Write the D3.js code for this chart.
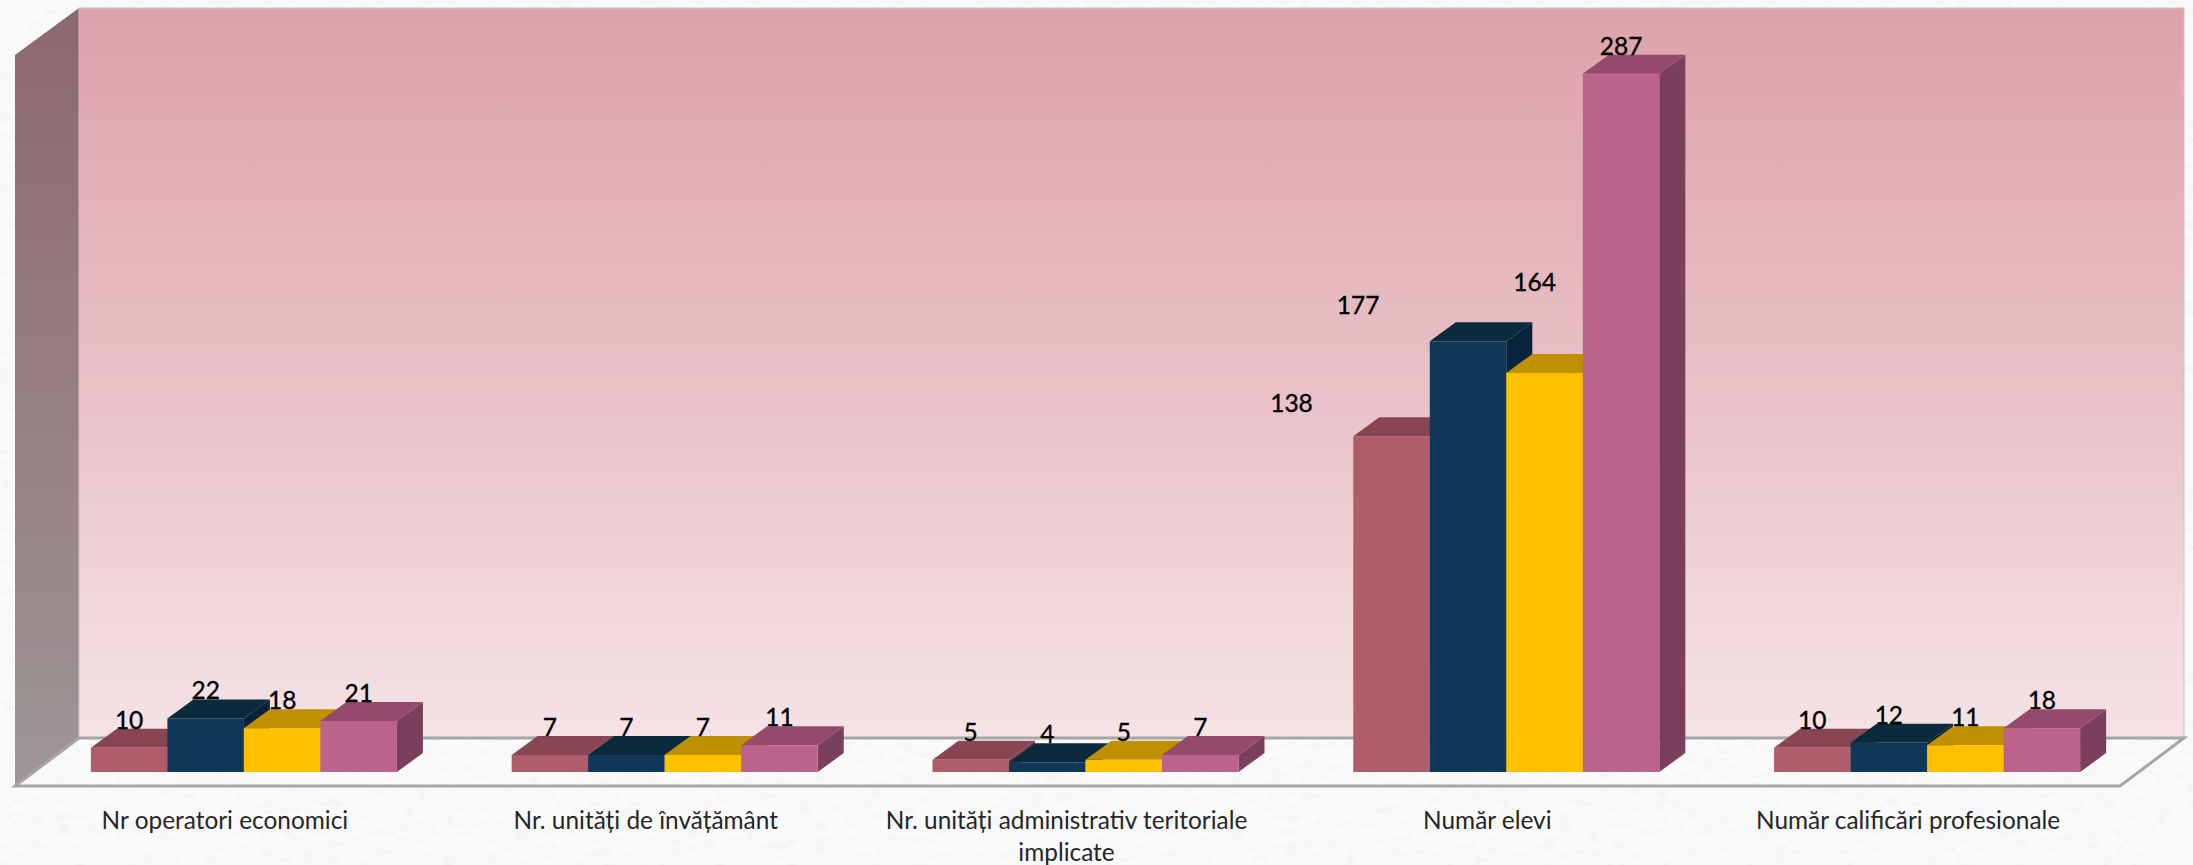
<!DOCTYPE html>
<html>
  <head>
    <meta charset="utf-8">
    <title>Indicatori</title>
    <script src="https://d3js.org/d3.v7.min.js"></script>
    <style>
      html, body { margin: 0; padding: 0; background: #f6f6f6; }
      svg { display: block; }
      text { font-family: Lato, "Open Sans", sans-serif; }
      .value { font-size: 24.5px; fill: #000; stroke: #000; stroke-width: 0.35px; text-anchor: middle; }
      .tick text { font-size: 24.4px; fill: #262626; }
    </style>
  </head>
  <body>
    <svg id="chart" width="2193" height="865"></svg>
    <script>
      // values
      var categories = [
        "Nr operatori economici",
        "Nr. unități de învățământ",
        "Nr. unități administrativ teritoriale implicate",
        "Număr elevi",
        "Număr calificări profesionale"
      ];
      var serie1 = [10, 7, 5, 138, 10];
      var serie2 = [22, 7, 4, 177, 12];
      var serie3 = [18, 7, 5, 164, 11];
      var serie4 = [21, 11, 7, 287, 18];
      var seriesValues = [serie1, serie2, serie3, serie4];

      // colours per series: front, top, side
      var colors = [
        ["#b05c6b", "#884654", "#6f3a46"],
        ["#0f3757", "#0a2a3e", "#08233a"],
        ["#ffc000", "#bf9000", "#9c7600"],
        ["#bc638c", "#934a6b", "#7a3f5a"]
      ];

      // the big category has its labels dragged away from the bars in the original
      var labelNudge = {
        "3-0": [-100, -5],
        "3-1": [-110, -8],
        "3-2": [-10, -63]
      };

      var depthX = 26, depthY = 19;
      var wallLeft = 79, wallRight = 2184, wallTop = 8, wallBottom = 738;
      var floorDX = 64, floorDY = 48;
      var axisShift = -19;

      var svg = d3.select("#chart");
      var defs = svg.append("defs");

      // paper texture behind the chart
      var paper = defs.append("filter").attr("id", "paper")
        .attr("x", 0).attr("y", 0).attr("width", "100%").attr("height", "100%");
      paper.append("feTurbulence")
        .attr("type", "fractalNoise")
        .attr("baseFrequency", "0.07 0.14")
        .attr("numOctaves", 4)
        .attr("seed", 4);
      paper.append("feColorMatrix")
        .attr("type", "matrix")
        .attr("values", "0 0 0 0 0.91  0 0 0 0 0.91  0 0 0 0 0.91  2.0 2.0 0 0 -1.9");
      svg.append("rect").attr("width", 2193).attr("height", 865).attr("fill", "#fafafa");
      svg.append("rect").attr("width", 2193).attr("height", 865).attr("filter", "url(#paper)");

      function gradient(id, stops) {
        var g = defs.append("linearGradient").attr("id", id)
          .attr("x1", 0).attr("y1", 0).attr("x2", 0).attr("y2", 1);
        stops.forEach(function(s) {
          g.append("stop").attr("offset", s[0]).attr("stop-color", s[1]);
        });
      }
      gradient("backWall", [[0, "#dda2a9"], [0.2, "#e2aeb6"], [0.55, "#e9c3c9"], [1, "#f5e3e5"]]);
      gradient("sideWall", [[0, "#8d686e"], [1, "#9f9697"]]);

      var poly = d3.line();

      // walls and floor edge
      var walls = svg.append("g");
      walls.append("path")
        .attr("d", poly([[wallLeft - floorDX, wallTop + 47], [wallLeft, wallTop], [wallLeft, wallBottom], [wallLeft - floorDX, wallBottom + floorDY]]) + "Z")
        .attr("fill", "url(#sideWall)");
      walls.append("rect")
        .attr("x", wallLeft).attr("y", wallTop)
        .attr("width", wallRight - wallLeft).attr("height", wallBottom - wallTop)
        .attr("fill", "url(#backWall)")
        .attr("stroke", "#c9c0c1").attr("stroke-width", 1);
      walls.append("path")
        .attr("d", poly([
          [wallLeft, wallBottom],
          [wallRight, wallBottom],
          [wallRight - floorDX, wallBottom + floorDY],
          [wallLeft - floorDX, wallBottom + floorDY],
          [wallLeft, wallBottom]
        ]))
        .attr("fill", "none")
        .attr("stroke", "#a6a6a6").attr("stroke-width", 3);

      // scales
      var x = d3.scaleBand()
        .domain(d3.range(categories.length))
        .range([33.5, 2137.5])
        .paddingInner(0.2727)
        .paddingOuter(0.13635);
      var xInner = d3.scaleBand()
        .domain(d3.range(seriesValues.length))
        .range([0, x.bandwidth()]);
      var y = d3.scaleLinear()
        .domain([0, 287])
        .range([772, 73.7]);

      var bars = [];
      categories.forEach(function(c, i) {
        seriesValues.forEach(function(values, s) {
          bars.push({ cat: i, serie: s, value: values[i] });
        });
      });

      var barGroups = svg.append("g").selectAll(".bar")
          .data(bars)
        .enter().append("g")
          .attr("class", "bar");

      function left(d) { return x(d.cat) + xInner(d.serie); }
      function right(d) { return left(d) + xInner.bandwidth(); }

      // side face first, then top, then front
      barGroups.append("path")
        .attr("fill", function(d) { return colors[d.serie][2]; })
        .attr("d", function(d) {
          return poly([
            [right(d), y(d.value)],
            [right(d) + depthX, y(d.value) - depthY],
            [right(d) + depthX, y(0) - depthY],
            [right(d), y(0)]
          ]) + "Z";
        });
      barGroups.append("path")
        .attr("fill", function(d) { return colors[d.serie][1]; })
        .attr("d", function(d) {
          return poly([
            [left(d), y(d.value)],
            [left(d) + depthX, y(d.value) - depthY],
            [right(d) + depthX, y(d.value) - depthY],
            [right(d), y(d.value)]
          ]) + "Z";
        });
      barGroups.append("rect")
        .attr("fill", function(d) { return colors[d.serie][0]; })
        .attr("x", left)
        .attr("y", function(d) { return y(d.value); })
        .attr("width", xInner.bandwidth())
        .attr("height", function(d) { return y(0) - y(d.value); });

      // value labels on top of everything
      svg.append("g").selectAll("text")
          .data(bars)
        .enter().append("text")
          .attr("class", "value")
          .attr("x", function(d) {
            var n = labelNudge[d.cat + "-" + d.serie];
            return left(d) + xInner.bandwidth() / 2 + (n ? n[0] : 0);
          })
          .attr("y", function(d) {
            var n = labelNudge[d.cat + "-" + d.serie];
            return y(d.value) - depthY + (n ? n[1] : 0);
          })
          .text(function(d) { return d.value; });

      // category axis along the front edge of the floor
      var xAxis = d3.axisBottom(x)
        .tickSize(0)
        .tickPadding(0)
        .tickFormat(function(i) { return categories[i]; });
      var axisGroup = svg.append("g")
        .attr("transform", "translate(" + axisShift + ", 812)")
        .call(xAxis);
      axisGroup.select(".domain").remove();
      axisGroup.selectAll(".tick text").call(wrap, 400);

      function wrap(sel, width) {
        sel.each(function() {
          var label = d3.select(this);
          var words = label.text().split(" ");
          label.text(null);
          var line = [];
          var tspan = label.append("tspan").attr("x", 0).attr("dy", "0.71em");
          words.forEach(function(w) {
            line.push(w);
            tspan.text(line.join(" "));
            if (tspan.node().getComputedTextLength() > width) {
              line.pop();
              tspan.text(line.join(" "));
              line = [w];
              tspan = label.append("tspan").attr("x", 0).attr("dy", "32px").text(w);
            }
          });
        });
      }
    </script>
  </body>
</html>
